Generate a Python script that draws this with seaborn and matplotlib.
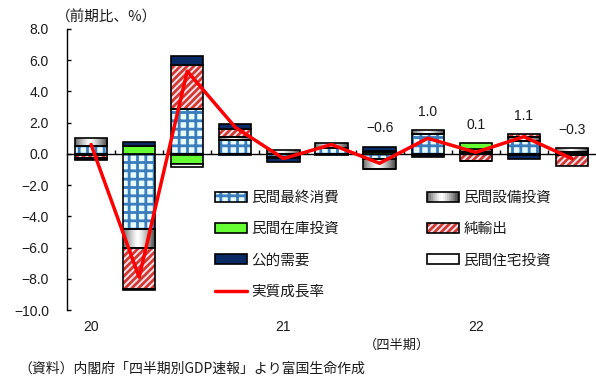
import numpy as np
import pandas as pd
import matplotlib
matplotlib.use("Agg")
import matplotlib.pyplot as plt
import seaborn as sns
from matplotlib.patches import Patch, Rectangle
from matplotlib.lines import Line2D
from matplotlib.legend_handler import HandlerTuple, HandlerBase
from matplotlib.ticker import FuncFormatter

# ---------------- data ----------------
quarters = ["20Q1", "20Q2", "20Q3", "20Q4", "21Q1", "21Q2", "21Q3", "21Q4", "22Q1", "22Q2", "22Q3"]
consumption = [0.50, -4.80, 2.90, 0.90, -0.20, 0.35, -0.35, 1.25, 0.10, 0.80, 0.10]
capex = [0.50, -1.20, -0.05, 0.20, 0.25, 0.35, -0.60, 0.25, 0.20, 0.30, 0.25]
inventory = [-0.10, 0.50, -0.60, -0.05, 0.00, 0.00, 0.15, -0.05, 0.40, -0.10, -0.05]
net_exports = [-0.15, -2.65, 2.80, 0.50, -0.05, 0.00, 0.05, -0.05, -0.45, 0.20, -0.75]
public = [-0.05, 0.25, 0.55, 0.30, -0.30, -0.05, 0.27, -0.10, 0.00, -0.20, 0.00]
housing = [-0.10, -0.05, -0.20, 0.00, 0.00, 0.00, -0.02, 0.00, -0.03, 0.00, 0.00]
growth = [0.6, -7.9, 5.3, 1.7, -0.3, 0.6, -0.6, 1.0, 0.1, 1.1, -0.3]
labelled = [6, 7, 8, 9, 10]
year_labels = ["20", "21", "22"]
year_pos = [0, 4, 8]
y_ticks = [-10, -8, -6, -4, -2, 0, 2, 4, 6, 8]

names = ["民間最終消費", "民間設備投資", "民間在庫投資", "純輸出", "公的需要", "民間住宅投資"]
series = [consumption, capex, inventory, net_exports, public, housing]

# ---------------- style ----------------
sns.set_theme(style="white")
plt.rcParams["font.family"] = ["Noto Sans CJK JP", "DejaVu Sans"]
plt.rcParams["hatch.linewidth"] = 2.0
plt.rcParams["axes.unicode_minus"] = True
NUMFONT = ["Liberation Sans", "DejaVu Sans"]
TXT = "#1a1a1a"

styles = {
    "民間最終消費": dict(face="#e6fcff", hatch="++", hatchcolor="#3a7cbc"),
    "民間設備投資": dict(face="none", hatch=None, hatchcolor=None, gradient=True),
    "民間在庫投資": dict(face="#66ff33", hatch=None, hatchcolor=None),
    "純輸出": dict(face="#fbe4e4", hatch="/////", hatchcolor="#d03838"),
    "公的需要": dict(face="#0a2a66", hatch=None, hatchcolor=None),
    "民間住宅投資": dict(face="#ffffff", hatch=None, hatchcolor=None),
}

W, H = 596, 376
fig = plt.figure(figsize=(W / 100, H / 100), dpi=100)
ax = fig.add_axes([67 / W, 1 - 310 / H, 1 - 67 / W, 281 / H])

n = len(quarters)
pos_base = np.zeros(n)
neg_base = np.zeros(n)
bar_width = 0.67


def grad_profile(k=64):
    x = np.linspace(0, 1, k)
    v = 1.0 - 0.75 * np.clip(np.abs(x - 0.45) / 0.55, 0, 1) ** 1.3
    return v


for name, vals in zip(names, series):
    vals = np.asarray(vals, dtype=float)
    bottom = np.where(vals >= 0, pos_base, neg_base)
    df = pd.DataFrame({"q": quarters, "v": vals})
    st = styles[name]
    before = len(ax.patches)
    if st.get("gradient"):
        sns.barplot(data=df, x="q", y="v", order=quarters, ax=ax, bottom=bottom,
                    width=bar_width, saturation=1, errorbar=None, color="#999999",
                    facecolor="none", edgecolor="black", linewidth=1.2, zorder=3)
        new = ax.patches[before:]
        for p in new:
            if abs(p.get_height()) < 1e-9:
                p.set_visible(False)
                continue
            x0, y0 = p.get_x(), p.get_y()
            w, h = p.get_width(), p.get_height()
            img = ax.imshow(grad_profile()[None, :], cmap="gray", vmin=0, vmax=1,
                            extent=[x0, x0 + w, min(y0, y0 + h), max(y0, y0 + h)],
                            aspect="auto", zorder=2.5, interpolation="bilinear")
            img.set_clip_path(p)
    else:
        if st["hatch"]:
            sns.barplot(data=df, x="q", y="v", order=quarters, ax=ax, bottom=bottom,
                        width=bar_width, saturation=1, errorbar=None, color=st["face"],
                        facecolor=st["face"], edgecolor=st["hatchcolor"], hatch=st["hatch"],
                        linewidth=0, zorder=2)
            for p in ax.patches[before:]:
                if abs(p.get_height()) < 1e-9:
                    p.set_visible(False)
            before = len(ax.patches)
            sns.barplot(data=df, x="q", y="v", order=quarters, ax=ax, bottom=bottom,
                        width=bar_width, saturation=1, errorbar=None, color="#000000",
                        facecolor="none", edgecolor="black", linewidth=1.2, zorder=3)
        else:
            sns.barplot(data=df, x="q", y="v", order=quarters, ax=ax, bottom=bottom,
                        width=bar_width, saturation=1, errorbar=None, color=st["face"],
                        facecolor=st["face"], edgecolor="black", linewidth=1.2, zorder=3)
        for p in ax.patches[before:]:
            if abs(p.get_height()) < 1e-9:
                p.set_visible(False)
    pos_base = pos_base + np.where(vals > 0, vals, 0)
    neg_base = neg_base + np.where(vals < 0, vals, 0)

# growth line
sns.lineplot(x=list(range(n)), y=growth, ax=ax, color="#ff0000", linewidth=2.5,
             zorder=5, legend=False)

# value labels
fmt = lambda v: f"{v:.1f}".replace("-", "\u2212")
for i in labelled:
    ax.annotate(fmt(growth[i]), xy=(i, pos_base[i]), xytext=(0, 13),
                textcoords="offset points", ha="center", va="center",
                fontsize=10, color=TXT, family=NUMFONT)

# axes styling
ax.set_xlim(-0.5, n - 0.5)
ax.set_ylim(-10, 8)
ax.set_yticks(y_ticks)
ax.yaxis.set_major_formatter(FuncFormatter(lambda v, p: fmt(v)))
ax.set_xticks([i + 0.5 for i in range(n - 1)])
ax.set_xticklabels([])
ax.set_xlabel("")
ax.set_ylabel("")
for s in ["top", "right"]:
    ax.spines[s].set_visible(False)
ax.spines["left"].set_color("black")
ax.spines["left"].set_linewidth(1.0)
ax.spines["bottom"].set_position(("data", 0))
ax.spines["bottom"].set_color("black")
ax.spines["bottom"].set_linewidth(1.0)
ax.spines["bottom"].set_zorder(4)
ax.tick_params(axis="y", left=True, direction="in", length=3, width=1, color="black",
               pad=13, labelsize=10, labelcolor=TXT)
for t in ax.get_yticklabels():
    t.set_family(NUMFONT)
ax.tick_params(axis="x", bottom=True, direction="in", length=3, width=1, color="black")
ax.grid(False)

for lab, xp in zip(year_labels, year_pos):
    ax.text(xp, -11.1, lab, ha="center", va="center", fontsize=10, color=TXT,
            clip_on=False, family=NUMFONT)
ax.text(6.36, -12.25, "（四半期）", ha="center", va="center", fontsize=9.5,
        color=TXT, clip_on=False)
fig.text(56 / W, 1 - 17 / H, "（前期比、%）", ha="left", va="center", fontsize=10.5,
         color=TXT)
fig.text(18 / W, 1 - 369 / H, "（資料）内閣府「四半期別GDP速報」より富国生命作成",
         ha="left", va="center", fontsize=10, color=TXT)


# legend
class GradHandler(HandlerBase):
    def create_artists(self, legend, orig_handle, xdescent, ydescent, width, height,
                       fontsize, trans):
        prof = grad_profile(16)
        arts = []
        k = len(prof)
        for j, v in enumerate(prof):
            r = Rectangle((-xdescent + j * width / k, -ydescent), width / k + 0.3, height,
                          facecolor=(v, v, v), edgecolor="none", transform=trans)
            arts.append(r)
        arts.append(Rectangle((-xdescent, -ydescent), width, height, facecolor="none",
                              edgecolor="black", linewidth=1.2, transform=trans))
        return arts


class GradKey:
    pass


def hatch_handle(st):
    return (Patch(facecolor=st["face"], edgecolor=st["hatchcolor"], hatch=st["hatch"], linewidth=0),
            Patch(facecolor="none", edgecolor="black", linewidth=1.2))


h_cons = hatch_handle(styles["民間最終消費"])
h_capex = GradKey()
h_inv = Patch(facecolor=styles["民間在庫投資"]["face"], edgecolor="black", linewidth=1.2)
h_net = hatch_handle(styles["純輸出"])
h_pub = Patch(facecolor=styles["公的需要"]["face"], edgecolor="black", linewidth=1.2)
h_house = Patch(facecolor="white", edgecolor="black", linewidth=1.2)
h_line = Line2D([], [], color="#ff0000", linewidth=2.5)

handles = [h_cons, h_inv, h_pub, h_line, h_capex, h_net, h_house]
labels = ["民間最終消費", "民間在庫投資", "公的需要", "実質成長率", "民間設備投資", "純輸出", "民間住宅投資"]
leg = ax.legend(handles, labels, ncol=2, loc="upper left",
                bbox_to_anchor=(215 / W, 1 - 191 / H), bbox_transform=fig.transFigure,
                frameon=False, fontsize=10.5, borderpad=0, borderaxespad=0,
                handlelength=2.2, handleheight=0.7, handletextpad=0.3,
                labelspacing=1.18, columnspacing=6.0,
                handler_map={tuple: HandlerTuple(ndivide=1, pad=0), GradKey: GradHandler()})
for t in leg.get_texts():
    t.set_color(TXT)

fig.savefig("out.png", dpi=100)
